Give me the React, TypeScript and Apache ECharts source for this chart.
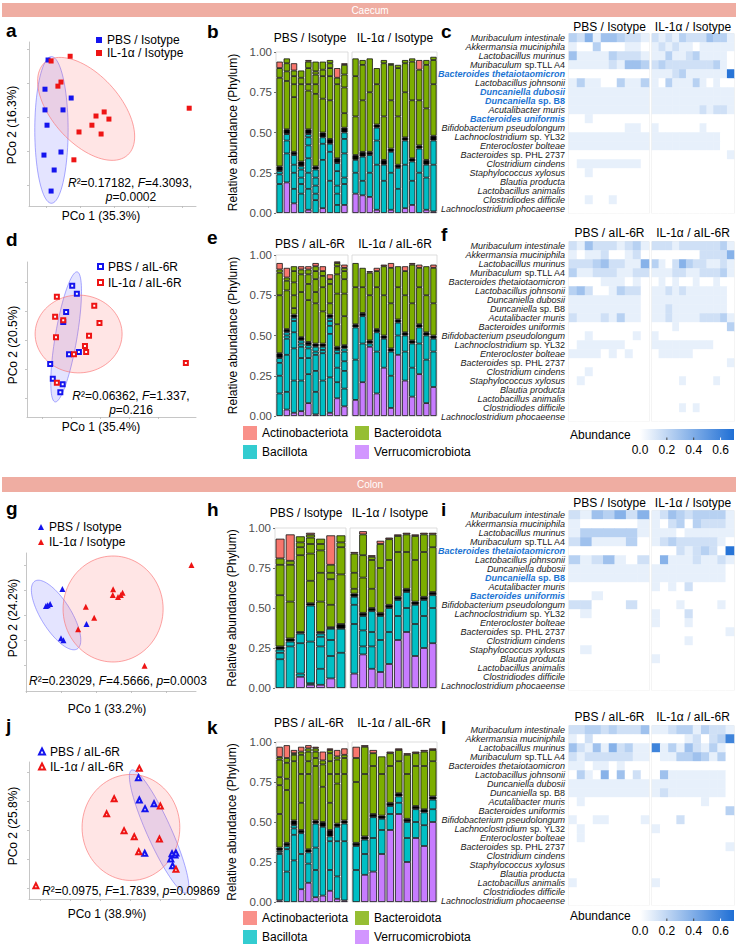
import React, { useEffect, useRef } from "react";
import * as echarts from "echarts";

const FONT = '"Liberation Sans", Arial, Helvetica, sans-serif';
const BLUE = "#1414EE";
const RED = "#EE1414";
const ACT = "#F8766D";
const BAC = "#7CAE00";
const BCL = "#00BFC4";
const VER = "#C77CFF";
const BLK = "#000000";
const HEAT_HI = "#1F6FD5";
const BANNER = "#EFADA2";
const HEAT_UNIT = 0.075;

const speciesNames = [
  "Muribaculum intestinale", "Akkermansia muciniphila", "Lactobacillus murinus", "Muribaculum sp.TLL A4",
  "Bacteroides thetaiotaomicron", "Lactobacillus johnsonii", "Duncaniella dubosii", "Duncaniella sp. B8",
  "Acutalibacter muris", "Bacteroides uniformis", "Bifidobacterium pseudolongum", "Lachnoclostridium sp. YL32",
  "Enterocloster bolteae", "Bacteroides sp. PHL 2737", "Clostridium cindens", "Staphylococcus xylosus",
  "Blautia producta", "Lactobacillus animalis", "Clostridiodes difficile", "Lachnoclostridium phocaeense",
];
const phyla = ["Actinobacteriota", "Bacteroidota", "Bacillota", "Verrucomicrobiota"];
const phylaColors = [ACT, BAC, BCL, VER];
const barTicks = [0, 0.25, 0.5, 0.75, 1];
const pcoTicks = [-0.2, -0.1, 0, 0.1, 0.2];
const scaleTicks = [0, 0.2, 0.4, 0.6];

// ---------- PCoA scores ----------
const aPbs = [[-0.194, 0.168], [-0.203, 0.082], [-0.203, 0.021], [-0.197, -0.024], [-0.126, 0.056], [-0.150, 0.021], [-0.206, -0.112], [-0.156, -0.103], [-0.176, -0.156], [-0.185, -0.218]];
const aIl = [[-0.185, 0.165], [-0.129, 0.179], [-0.165, 0.091], [-0.156, 0.103], [-0.029, 0.015], [-0.053, 0.003], [-0.015, -0.006], [-0.065, -0.024], [-0.103, -0.044], [-0.038, -0.050], [-0.118, -0.126], [0.221, 0.026]];
const aEll = [[-0.184, -0.038, 0, 0.216, 0.049, 0], [-0.082, 0.024, 0.122, -0.136, -0.074, -0.067]];

const dPbs = [[-0.096, 0.189], [-0.080, 0.162], [-0.117, 0.099], [-0.127, 0.064], [-0.107, -0.047], [-0.073, -0.039], [-0.172, -0.080], [-0.163, -0.131], [-0.129, -0.150], [-0.137, -0.178]];
const dIl = [[-0.149, 0.151], [-0.020, 0.120], [-0.002, 0.061], [-0.155, 0.082], [-0.127, 0.070], [-0.152, 0.012], [-0.038, 0.017], [-0.052, -0.018], [-0.048, -0.039], [-0.090, -0.047], [-0.149, -0.145], [0.296, -0.077]];
const dEll = [[-0.117, 0.013, 0.038, 0.224, 0.037, -0.006], [-0.074, 0.023, 0.15, 0, 0, 0.134]];

const gPbs = [[-0.096, 0.104], [-0.143, 0.036], [-0.138, 0.039], [-0.131, 0.044], [-0.027, -0.036], [-0.100, -0.093], [-0.093, -0.101]];
const gIl = [[0.273, 0.200], [0.049, 0.103], [0.048, 0.080], [0.071, 0.080], [0.076, 0.089], [-0.029, 0.033], [-0.005, -0.011], [-0.051, -0.057], [0.139, -0.203], [0.063, 0.072]];
const gEll = [[-0.114, 0, 0.0606, -0.1356, -0.0363, -0.0318], [0.049, 0.024, 0.143, 0, 0, 0.212]];

const jPbs = [[0.128, 0.183], [0.131, 0.106], [0.150, 0.076], [0.180, 0.093], [0.149, -0.078], [0.240, -0.080], [0.250, -0.084], [0.236, -0.098], [0.242, -0.121], [0.253, -0.077]];
const jIl = [[0.131, 0.215], [0.047, 0.110], [0.022, 0.058], [0.201, 0.085], [0.080, 0.000], [0.114, -0.021], [0.198, -0.029], [0.129, -0.073], [0.253, -0.133], [-0.214, -0.190]];
const jEll = [[0.197, -0.003, 0.092, -0.212, -0.037, -0.017], [0.103, 0.011, 0.163, 0, 0, 0.183]];

// ---------- stacked phylum bars: cumulative tops (purple, cyan lines, black band, green lines, bar top) ----------
const P1b = [0, 0.19, 0.06, 0, 0.02, 0, 0.03, 0, 0, 0.05];
const C1b = [[0.18, 0.24, 0.26], [0.37, 0.45, 0.49], [0.15, 0.25, 0.30, 0.36], [0.12, 0.18, 0.22, 0.27, 0.29], [0.15, 0.25, 0.34, 0.42, 0.47, 0.49], [0.08, 0.12, 0.17, 0.22, 0.27], [0.33, 0.43, 0.47], [0.20, 0.38, 0.43], [0.05, 0.12, 0.17, 0.26, 0.31], [0.18, 0.22, 0.37, 0.46, 0.50]];
const K1b = [0.29, 0.52, 0.38, 0.32, 0.52, 0.29, 0.50, 0.46, 0.34, 0.53];
const G1b = [[0.84, 0.90], [0.82, 0.88, 0.93, 0.96], [0.72, 0.80, 0.85, 0.885], [0.80, 0.84, 0.885], [0.76, 0.80, 0.90, 0.94], [0.74, 0.80, 0.86, 0.88, 0.94], [0.71, 0.85, 0.89, 0.94], [0.70, 0.85, 0.90, 0.93, 0.95], [0.80, 0.84], [0.62, 0.78, 0.86, 0.92]];
const S1b = [0.94, 0.96, 0.93, 0.885, 0.95, 0.94, 0.94, 0.95, 0.90, 0.93];

const P2b = [0.12, 0.11, 0.10, 0.02, 0, 0.02, 0, 0.03, 0.05, 0, 0.02, 0.01];
const C2b = [[0.25, 0.33], [0.20, 0.35], [0.25, 0.36], [0.30, 0.45, 0.53], [0.20, 0.30], [0.25, 0.38], [0.15, 0.28], [0.30, 0.45], [0.20, 0.32], [0.25, 0.40], [0.22, 0.30], [0.30, 0.45]];
const K2b = [0.36, 0.38, 0.38, 0.55, 0.33, 0.40, 0.30, 0.47, 0.34, 0.42, 0.33, 0.48];
const G2b = [[0.60, 0.85, 0.96], [0.70, 0.92, 0.95], [0.75, 0.96], [0.80, 0.90], [0.60, 0.93, 0.95], [0.70, 0.92, 0.93], [0.60, 0.90, 0.92], [0.75, 0.93, 0.95], [0.70, 0.94, 0.96], [0.70, 0.89], [0.65, 0.92, 0.95], [0.80, 0.95, 0.97]];
const S2b = [0.96, 0.95, 0.96, 0.90, 0.95, 0.93, 0.92, 0.95, 0.96, 0.95, 0.95, 0.97];

const P1e = [0, 0.04, 0.02, 0.03, 0.08, 0.01, 0, 0.02, 0.11, 0.06];
const C1e = [[0.14, 0.25, 0.33, 0.36], [0.15, 0.38, 0.48, 0.50, 0.52], [0.22, 0.42, 0.52, 0.59, 0.61], [0.22, 0.36, 0.43, 0.45, 0.47], [0.26, 0.36, 0.42, 0.44], [0.15, 0.28, 0.38, 0.40, 0.43], [0.22, 0.39, 0.41, 0.43], [0.24, 0.51, 0.56, 0.59, 0.61], [0.21, 0.30, 0.39, 0.41], [0.17, 0.28, 0.34, 0.40, 0.42]];
const K1e = [0.39, 0.54, 0.63, 0.49, 0.46, 0.45, 0.45, 0.63, 0.43, 0.44];
const G1e = [[0.75, 0.89, 0.91], [0.78, 0.84, 0.86], [0.67, 0.75, 0.83, 0.90, 0.93], [0.77, 0.88, 0.91], [0.72, 0.82, 0.88, 0.91], [0.70, 0.77, 0.85, 0.90, 0.93], [0.65, 0.80, 0.87, 0.90], [0.70, 0.82, 0.85], [0.57, 0.76, 0.88, 0.93, 0.95], [0.62, 0.76, 0.85, 0.90, 0.92]];
const S1e = [0.95, 0.92, 0.93, 0.93, 0.93, 0.95, 0.93, 0.88, 0.96, 0.94];

const P2e = [0.10, 0.21, 0.43, 0.14, 0.30, 0.05, 0.38, 0.22, 0.12, 0.26, 0.08, 0.18];
const C2e = [[0.35, 0.55], [0.45, 0.62], [0.45], [0.40, 0.52], [0.48], [0.25, 0.40], [0.50, 0.58], [0.40, 0.50], [0.30, 0.45], [0.45, 0.55], [0.35, 0.50], [0.40, 0.48]];
const K2e = [0.57, 0.64, 0.47, 0.54, 0.50, 0.42, 0.60, 0.52, 0.47, 0.57, 0.52, 0.50];
const G2e = [[0.80, 0.95], [0.80, 0.92], [0.75, 0.89], [0.80, 0.90], [0.75, 0.93], [0.70, 0.92], [0.80, 0.93], [0.75, 0.90], [0.70, 0.94], [0.80, 0.92], [0.75, 0.93], [0.70, 0.92]];
const S2e = [0.95, 0.92, 0.90, 0.92, 0.94, 0.95, 0.93, 0.93, 0.95, 0.94, 0.93, 0.94];

const P1h = [0, 0, 0.07, 0.02, 0.02, 0.06, 0];
const C1h = [[0.18, 0.22, 0.24], [0.26, 0.29], [0.09, 0.28, 0.34], [0.03, 0.29, 0.515], [0.12, 0.26, 0.32, 0.34], [0.20, 0.30, 0.37], [0.22, 0.37]];
const K1h = [0.26, 0.31, 0.35, 0.53, 0.35, 0.38, 0.40];
const G1h = [[0.58, 0.77, 0.81], [0.54, 0.77, 0.795], [0.83, 0.88, 0.91, 0.948], [0.67, 0.84, 0.90, 0.94, 0.958], [0.54, 0.72, 0.86, 0.90, 0.933], [0.52, 0.68, 0.72, 0.77], [0.71, 0.88, 0.91, 0.954]];
const S1h = [0.933, 0.96, 0.948, 0.97, 0.933, 0.954, 0.954];

const P2h = [0.09, 0.21, 0.12, 0.10, 0.15, 0.30, 0.35, 0.20, 0.25, 0.28];
const C2h = [[0.40, 0.52, 0.57], [0.26, 0.36, 0.45], [0.26, 0.35, 0.48], [0.30, 0.45], [0.35, 0.50], [0.45, 0.55], [0.50, 0.60], [0.40, 0.52], [0.45, 0.55], [0.50, 0.58]];
const K2h = [0.59, 0.47, 0.50, 0.47, 0.52, 0.57, 0.62, 0.54, 0.57, 0.60];
const G2h = [[0.62, 0.72, 0.84], [0.69, 0.83, 0.96], [0.62, 0.80, 0.82], [0.75, 0.90], [0.80, 0.93], [0.85, 0.95], [0.85, 0.96], [0.80, 0.95], [0.85, 0.96], [0.88, 0.96]];
const S2h = [0.85, 0.98, 0.83, 0.92, 0.94, 0.96, 0.97, 0.96, 0.97, 0.97];

const P1k = [0.01, 0, 0, 0.08, 0.12, 0.03, 0.04, 0.07, 0.02, 0.01];
const C1k = [[0.30, 0.31, 0.32], [0.19, 0.33, 0.35], [0.26, 0.42, 0.46, 0.48], [0.30, 0.43], [0.24, 0.31], [0.20, 0.34, 0.49], [0.47], [0.20, 0.38, 0.41], [0.16, 0.38, 0.47], [0.38, 0.49]];
const K1k = [0.34, 0.37, 0.51, 0.45, 0.33, 0.51, 0.50, 0.45, 0.49, 0.51];
const G1k = [[0.55, 0.73, 0.78, 0.89, 0.906], [0.70, 0.77, 0.87, 0.90], [0.88, 0.92, 0.93], [0.62, 0.80, 0.92, 0.94], [0.80, 0.88, 0.94, 0.96], [0.85, 0.90, 0.94, 0.96], [0.72, 0.86, 0.885], [0.62, 0.80, 0.88, 0.93, 0.95], [0.74, 0.80, 0.89, 0.91], [0.80, 0.90, 0.92]];
const S1k = [0.97, 0.98, 0.95, 0.97, 0.98, 0.97, 0.94, 0.96, 0.95, 0.96];

const P2k = [0, 0.17, 0.19, 0.30, 0.45, 0.55, 0.25, 0.40, 0.35, 0.50];
const C2k = [[0.20, 0.35], [0.30, 0.39], [0.40, 0.53], [0.45, 0.52], [0.55, 0.60], [0.62, 0.66], [0.40, 0.50], [0.50, 0.58], [0.48, 0.56], [0.58, 0.64]];
const K2k = [0.37, 0.41, 0.55, 0.54, 0.62, 0.68, 0.52, 0.60, 0.58, 0.66];
const G2k = [[0.75, 0.90], [0.80, 0.97], [0.85, 0.93], [0.80, 0.91], [0.85, 0.93], [0.88, 0.95], [0.80, 0.92], [0.85, 0.93], [0.85, 0.94], [0.88, 0.95]];
const S2k = [0.97, 0.98, 0.95, 0.91, 0.94, 0.96, 0.93, 0.94, 0.95, 0.96];

// ---------- species heatmaps: one digit per sample, abundance = digit * HEAT_UNIT ----------
const cPbs = ["3251443221", "1003000110", "4111132221", "1111121443", "0000000000", "1311003113", "1111111111", "1111111111", "1111111111", "0010000000", "0000000110", "1111111111", "1111111111", "0000000000", "0111111110", "0010000000", "0000000000", "0000000000", "0010010000", "0000000000"];
const cIl = ["212132224331", "121211011111", "113112311110", "232222222310", "111231111119", "103111310100", "111111111111", "111111111111", "111111121221", "000000000000", "100000010000", "111111111100", "111111111100", "000000000001", "000000000000", "000000000000", "000000000000", "000000000000", "000000000000", "000000000000"];
const fPbs = ["2142221231", "1011200120", "2223422115", "3112221122", "0000111010", "3420013220", "1111111110", "1111111110", "2111213110", "0000000000", "0010000010", "0111111000", "1111010100", "0000000000", "0010000000", "0100000000", "0000000000", "0000000000", "0000000000", "0000000000"];
const fIl = ["222122222231", "000000022225", "310253221121", "111221122231", "010100100100", "112121111110", "111111111110", "112111111110", "112111122231", "000100000003", "100000000000", "111111111000", "011111000000", "000000000001", "000000000000", "000010000100", "000000000000", "000000000000", "000010100000", "000000000000"];
const iPbs = ["2143525", "1000001", "1333331", "2411130", "0000000", "3124102", "1111111", "1111111", "0000000", "0010000", "2200020", "0100000", "0000000", "0000000", "0000000", "0100000", "0000000", "0000000", "0000000", "0000000"];
const iIl = ["1243233331", "1023032221", "1110111111", "1232222210", "0002123209", "0511121121", "1111111110", "1111111110", "1010200000", "0000000000", "0001000010", "1000200000", "1000100000", "0000000001", "0000100000", "0000000000", "1000000000", "0000000000", "0000000000", "0000000000"];
const lPbs = ["2233232224", "1020000000", "4214152311", "2122222211", "1101101000", "0310504020", "1111111111", "1111111111", "0100000000", "0000000000", "1001100001", "0100000000", "0100000000", "0000000000", "0000000000", "0000000000", "0000000000", "1000000000", "0000000000", "0000000000"];
const lIl = ["1123313221", "0000120238", "8131421310", "0113343130", "0000000000", "0411111110", "1111111110", "1211111110", "0000001000", "0000000003", "0002000000", "1000000000", "0000000000", "0000000001", "0000000000", "0000000000", "0000000000", "1000000000", "0000000000", "0000000000"];

function segmentsOf(P: number[], C: number[][], K: number[], G: number[][], S: number[]) {
  return P.map((p, j) => {
    const segs: any[] = [];
    let prev = 0;
    const push = (top: number, color: string) => {
      if (top > prev + 1e-6) {
        segs.push({ v: +(top - prev).toFixed(4), color });
        prev = top;
      }
    };
    push(p, VER);
    C[j].forEach((t) => push(t, BCL));
    push(K[j], BLK);
    G[j].forEach((t) => push(t, BAC));
    push(S[j], ACT);
    return segs;
  });
}

function buildOption() {
  const grid: any[] = [];
  const xAxis: any[] = [];
  const yAxis: any[] = [];
  const series: any[] = [];
  const legend: any[] = [];
  const graphic: any[] = [];
  const heatSeries: number[] = [];

  const addGrid = (l: number, t: number, w: number, h: number, border?: string) => {
    grid.push({
      left: l, top: t, width: w, height: h,
      show: !!border, borderColor: border || "transparent", borderWidth: border ? 0.8 : 0,
      backgroundColor: "transparent",
    });
    return grid.length - 1;
  };

  const T = (x: number, y: number, text: string, o: any = {}) => ({
    type: "text", x, y, rotation: o.rot || 0, silent: true, z: 50,
    style: {
      text, fontSize: o.size || 12, fontFamily: FONT, fontWeight: o.bold ? "bold" : "normal",
      fill: o.color || "#000", align: o.align || "center", verticalAlign: "middle",
      rich: o.rich,
    },
  });
  const italicRich = { i: { fontStyle: "italic", fontSize: 12, fontFamily: FONT, fill: "#000" } };

  // ---------- banners ----------
  graphic.push({ type: "rect", shape: { x: 2, y: 3, width: 734, height: 14 }, style: { fill: BANNER }, silent: true });
  graphic.push(T(370, 10, "Caecum", { size: 10, color: "#fff" }));
  graphic.push({ type: "rect", shape: { x: 2, y: 477, width: 734, height: 15 }, style: { fill: BANNER }, silent: true });
  graphic.push(T(370, 484.5, "Colon", { size: 10, color: "#fff" }));

  // ---------- panel letters ----------
  const letters: any[] = [
    ["a", 6, 30], ["b", 207, 31], ["c", 441, 31], ["d", 6, 239], ["e", 207, 237], ["f", 441, 234],
    ["g", 6, 508], ["h", 207, 509], ["i", 441, 509], ["j", 6, 725], ["k", 207, 727], ["l", 441, 727],
  ];
  letters.forEach(([t, x, y]) => graphic.push(T(x, y, t, { size: 19, bold: true, align: "left" })));

  // ---------- PCoA panels ----------
  const scat = [
    { id: "a", box: [29, 42, 167, 164], xr: [-0.25, 0.241], yr: [-0.262, 0.221], pbs: aPbs, il: aIl, ell: aEll,
      sym: "rect", size: 5, names: ["PBS / Isotype", "IL-1α / Isotype"], leg: [96, 33.5, 0], legW: 6,
      xName: [101, 216, "PCo 1 (35.3%)"], yName: [12, 125, "PCo 2 (16.3%)"],
      stat: [[130, 183, "{i|R}²=0.17182, {i|F}=4.3093,", "center"], [131, 197, "{i|p}=0.0002", "center"]] },
    { id: "d", box: [27, 262, 169, 155], xr: [-0.252, 0.331], yr: [-0.263, 0.271], pbs: dPbs, il: dIl, ell: dEll,
      sym: "emptyRect", size: 4, names: ["PBS / aIL-6R", "IL-1α / aIL-6R"], leg: [97, 260, 3], legW: 5,
      xName: [101, 427, "PCo 1 (35.4%)"], yName: [13, 345, "PCo 2 (20.5%)"],
      stat: [[131, 396, "{i|R}²=0.06362, {i|F}=1.337,", "center"], [131, 410, "{i|p}=0.216", "center"]] },
    { id: "g", box: [26, 553, 170, 138], xr: [-0.2, 0.286], yr: [-0.304, 0.248], pbs: gPbs, il: gIl, ell: gEll,
      sym: "triangle", size: 6, names: ["PBS / Isotype", "IL-1α / Isotype"], leg: [38, 520.5, 2], legW: 6,
      xName: [107, 709, "PCo 1 (33.2%)"], yName: [13, 618, "PCo 2 (24.2%)"],
      stat: [[29, 681, "{i|R}²=0.23029, {i|F}=4.5666, {i|p}=0.0003", "left"]] },
    { id: "j", box: [29, 762, 167, 137], xr: [-0.237, 0.32], yr: [-0.236, 0.237], pbs: jPbs, il: jIl, ell: jEll,
      sym: "emptyTriangle", size: 5, names: ["PBS / aIL-6R", "IL-1α / aIL-6R"], leg: [38, 745, 2], legW: 6,
      xName: [107, 914, "PCo 1 (38.9%)"], yName: [13, 826, "PCo 2 (25.8%)"],
      stat: [[42, 891, "{i|R}²=0.0975, {i|F}=1.7839, {i|p}=0.09869", "left"]] },
  ];

  let firstScatterGrid = -1;
  scat.forEach((p) => {
    const g = addGrid(p.box[0], p.box[1], p.box[2], p.box[3]);
    if (firstScatterGrid < 0) firstScatterGrid = g;
    const axisCommon = {
      gridIndex: g, type: "value",
      axisLine: { show: true, onZero: false, lineStyle: { color: "#b8b8b8", width: 0.8 } },
      axisTick: { show: true, length: 2, customValues: pcoTicks, lineStyle: { color: "#b8b8b8", width: 0.8 } },
      axisLabel: { show: false }, splitLine: { show: false },
    };
    xAxis.push({ ...axisCommon, min: p.xr[0], max: p.xr[1] });
    yAxis.push({ ...axisCommon, min: p.yr[0], max: p.yr[1] });
    const ellStyles = [
      { fill: "rgba(95,95,255,0.17)", stroke: "rgba(110,110,255,0.65)" },
      { fill: "rgba(255,110,110,0.18)", stroke: "rgba(250,120,120,0.75)" },
    ];
    p.ell.forEach((e, k) => {
      series.push({
        type: "custom", xAxisIndex: g, yAxisIndex: g, silent: true, z: 1 + k, clip: false,
        data: [e], encode: { x: 0, y: 1 },
        renderItem: (_params: any, api: any) => {
          const cx = api.value(0), cy = api.value(1), ux = api.value(2), uy = api.value(3), vx = api.value(4), vy = api.value(5);
          const pts: number[][] = [];
          for (let s = 0; s < 90; s++) {
            const t = (s / 90) * Math.PI * 2;
            pts.push(api.coord([cx + ux * Math.cos(t) + vx * Math.sin(t), cy + uy * Math.cos(t) + vy * Math.sin(t)]));
          }
          return { type: "polygon", shape: { points: pts }, style: { fill: ellStyles[k].fill, stroke: ellStyles[k].stroke, lineWidth: 0.9 } };
        },
      });
    });
    const hollow = p.sym.startsWith("empty");
    [p.pbs, p.il].forEach((pts, k) => {
      const col = k === 0 ? BLUE : RED;
      series.push({
        type: "scatter", name: p.id + ":" + p.names[k], xAxisIndex: g, yAxisIndex: g, z: 5,
        symbol: p.sym, symbolSize: p.size, silent: true,
        itemStyle: { color: col, borderColor: col, borderWidth: hollow ? 1 : 0, opacity: 1 },
        data: pts,
      });
    });
    const leg: any = {
      left: p.leg[0], top: p.leg[1], orient: "vertical", padding: 0, itemGap: p.leg[2],
      itemWidth: p.legW, itemHeight: p.legW, selectedMode: false,
      data: p.names.map((n) => p.id + ":" + n),
      formatter: (n: string) => n.slice(2),
      textStyle: { fontSize: 12, lineHeight: 13, fontFamily: FONT, color: "#000" },
    };
    if (hollow) leg.itemStyle = { borderWidth: 1 };
    legend.push(leg);
    graphic.push(T(p.xName[0] as number, p.xName[1] as number, p.xName[2] as string));
    graphic.push(T(p.yName[0] as number, p.yName[1] as number, p.yName[2] as string, { rot: Math.PI / 2 }));
    p.stat.forEach((s: any) => graphic.push(T(s[0], s[1], s[2], { align: s[3], rich: italicRich })));
  });

  // phylum legend carriers (empty series)
  phyla.forEach((n, k) => {
    series.push({ type: "scatter", name: n, xAxisIndex: firstScatterGrid, yAxisIndex: firstScatterGrid, data: [], itemStyle: { color: phylaColors[k] } });
  });

  // ---------- stacked bar panels ----------
  const barPanels = [
    { top: 52, h: 161, g1: [276, 72], g2: [352, 85], d1: [P1b, C1b, K1b, G1b, S1b], d2: [P2b, C2b, K2b, G2b, S2b],
      titles: ["PBS / Isotype", "IL-1α / Isotype"], tY: 38, tX: [310, 395], nameX: 233 },
    { top: 255, h: 161, g1: [276, 72], g2: [352, 85], d1: [P1e, C1e, K1e, G1e, S1e], d2: [P2e, C2e, K2e, G2e, S2e],
      titles: ["PBS / aIL-6R", "IL-1α / aIL-6R"], tY: 244, tX: [310, 395], nameX: 233 },
    { top: 528, h: 160, g1: [275, 71], g2: [350, 87], d1: [P1h, C1h, K1h, G1h, S1h], d2: [P2h, C2h, K2h, G2h, S2h],
      titles: ["PBS / Isotype", "IL-1α / Isotype"], tY: 513, tX: [306, 390], nameX: 232 },
    { top: 742, h: 160, g1: [276, 72], g2: [352, 85], d1: [P1k, C1k, K1k, G1k, S1k], d2: [P2k, C2k, K2k, G2k, S2k],
      titles: ["PBS / aIL-6R", "IL-1α / aIL-6R"], tY: 723, tX: [309, 394], nameX: 232 },
  ];
  barPanels.forEach((bp, pi) => {
    [bp.d1, bp.d2].forEach((d: any, k) => {
      const gx = k === 0 ? bp.g1 : bp.g2;
      const g = addGrid(gx[0], bp.top, gx[1], bp.h, "#d4d4d4");
      const samples = segmentsOf(d[0], d[1], d[2], d[3], d[4]);
      xAxis.push({
        gridIndex: g, type: "category", data: samples.map((_s, i) => "S" + (i + 1)),
        axisLine: { show: false }, axisTick: { show: false }, axisLabel: { show: false },
      });
      yAxis.push({
        gridIndex: g, type: "value", min: 0, max: 1, interval: 0.25,
        axisLine: { show: false },
        axisTick: { show: k === 0, length: 2, lineStyle: { color: "#4d4d4d", width: 0.8 } },
        axisLabel: { show: k === 0, fontSize: 11.5, color: "#4d4d4d", fontFamily: FONT, margin: 4, formatter: (v: number) => v.toFixed(2), customValues: barTicks },
        splitLine: { show: false },
      });
      const n = Math.max(...samples.map((s) => s.length));
      for (let i = 0; i < n; i++) {
        series.push({
          type: "bar", xAxisIndex: g, yAxisIndex: g, stack: "p" + pi + "_" + k, silent: true,
          barCategoryGap: "12%",
          itemStyle: { borderColor: "#111", borderWidth: 0.8 },
          data: samples.map((s) => (s[i] ? { value: s[i].v, itemStyle: { color: s[i].color } } : "-")),
        });
      }
      graphic.push(T(bp.tX[k], bp.tY, bp.titles[k]));
    });
    graphic.push(T(bp.nameX, bp.top + bp.h / 2, "Relative abundance (Phylum)", { rot: Math.PI / 2 }));
  });

  // phylum legends (2 x 2)
  [[426, 243, 355], [911, 243, 355]].forEach(([top, x1, x2]) => {
    [[phyla[0], phyla[2]], [phyla[1], phyla[3]]].forEach((names, c) => {
      legend.push({
        left: c === 0 ? x1 : x2, top, orient: "vertical", padding: 0, itemGap: 5,
        itemWidth: 14, itemHeight: 14, selectedMode: false,
        data: names.map((n) => ({ name: n, icon: "rect" })),
        textStyle: { fontSize: 12, lineHeight: 14, fontFamily: FONT, color: "#000" },
      });
    });
  });

  // ---------- heatmaps ----------
  const heatPanels = [
    { top: 33.5, pbs: cPbs, il: cIl, hl: [4, 6, 7, 9], titles: ["PBS / Isotype", "IL-1α / Isotype"], tY: 27 },
    { top: 241.5, pbs: fPbs, il: fIl, hl: [], titles: ["PBS / aIL-6R", "IL-1α / aIL-6R"], tY: 233 },
    { top: 510.5, pbs: iPbs, il: iIl, hl: [4, 7, 9], titles: ["PBS / Isotype", "IL-1α / Isotype"], tY: 503 },
    { top: 725.5, pbs: lPbs, il: lIl, hl: [], titles: ["PBS / aIL-6R", "IL-1α / aIL-6R"], tY: 717 },
  ];
  const rich = {
    i: { fontStyle: "italic", fontSize: 9, fontFamily: FONT, color: "#1a1a1a" },
    n: { fontSize: 9, fontFamily: FONT, color: "#1a1a1a" },
    bi: { fontStyle: "italic", fontWeight: "bold", fontSize: 9, fontFamily: FONT, color: "#1B74D3" },
    bn: { fontWeight: "bold", fontSize: 9, fontFamily: FONT, color: "#1B74D3" },
  };
  heatPanels.forEach((hp) => {
    [hp.pbs, hp.il].forEach((rows, k) => {
      const left = k === 0 ? 569 : 652;
      const width = k === 0 ? 80 : 82;
      const g = addGrid(left, hp.top, width, 180, "#dcdcdc");
      const nCol = rows[0].length;
      xAxis.push({
        gridIndex: g, type: "category", data: Array.from({ length: nCol }, (_v, i) => "S" + (i + 1)),
        axisLine: { show: false }, axisTick: { show: false }, axisLabel: { show: false }, splitLine: { show: false },
      });
      yAxis.push({
        gridIndex: g, type: "category", data: speciesNames, inverse: true,
        axisLine: { show: false }, axisTick: { show: false }, splitLine: { show: false },
        axisLabel: {
          show: k === 0, interval: 0, margin: 4, rich,
          formatter: (value: string, idx: number) => {
            const hi = hp.hl.includes(idx);
            const it = hi ? "bi" : "i";
            const nm = hi ? "bn" : "n";
            const m = value.match(/^(.*?)( sp\..*)$/);
            return m ? `{${it}|${m[1]}}{${nm}|${m[2]}}` : `{${it}|${value}}`;
          },
        },
      });
      const data: number[][] = [];
      rows.forEach((s, r) => s.split("").forEach((ch, c) => data.push([c, r, Number(ch) * HEAT_UNIT])));
      heatSeries.push(series.length);
      series.push({ type: "heatmap", xAxisIndex: g, yAxisIndex: g, data, silent: true, itemStyle: { borderWidth: 0 } });
      graphic.push(T(k === 0 ? 609.5 : 693, hp.tY, hp.titles[k]));
    });
  });

  // colour bars
  [[429, 435, 450], [910, 916, 931]].forEach(([y, ty, ly]) => {
    graphic.push(T(570, ty, "Abundance", { align: "left" }));
    graphic.push({
      type: "rect", silent: true, shape: { x: 640, y, width: 94, height: 11 },
      style: { fill: { type: "linear", x: 0, y: 0, x2: 1, y2: 0, colorStops: [{ offset: 0, color: "#ffffff" }, { offset: 1, color: HEAT_HI }] } },
    });
    scaleTicks.forEach((v) => {
      const x = 640 + (v / 0.7) * 94;
      if (v > 0) graphic.push({ type: "line", silent: true, shape: { x1: x, y1: y + 8.5, x2: x, y2: y + 11 }, style: { stroke: v < 0.5 ? "#444" : "#fff", lineWidth: 1 } });
      graphic.push(T(x, ly, v.toFixed(1)));
    });
  });

  return {
    animation: false,
    backgroundColor: "#ffffff",
    textStyle: { fontFamily: FONT },
    grid, xAxis, yAxis, series, legend, graphic,
    visualMap: [{ type: "continuous", show: false, min: 0, max: 0.7, seriesIndex: heatSeries, inRange: { color: ["#ffffff", HEAT_HI] } }],
  };
}

export default function App() {
  const ref = useRef<HTMLDivElement>(null);
  useEffect(() => {
    const chart = echarts.init(ref.current as HTMLDivElement, null, { renderer: "svg" });
    chart.setOption(buildOption() as any);
    return () => chart.dispose();
  }, []);
  return <div ref={ref} style={{ position: "absolute", left: 0, top: 0, width: 740, height: 950, background: "#fff" }} />;
}
